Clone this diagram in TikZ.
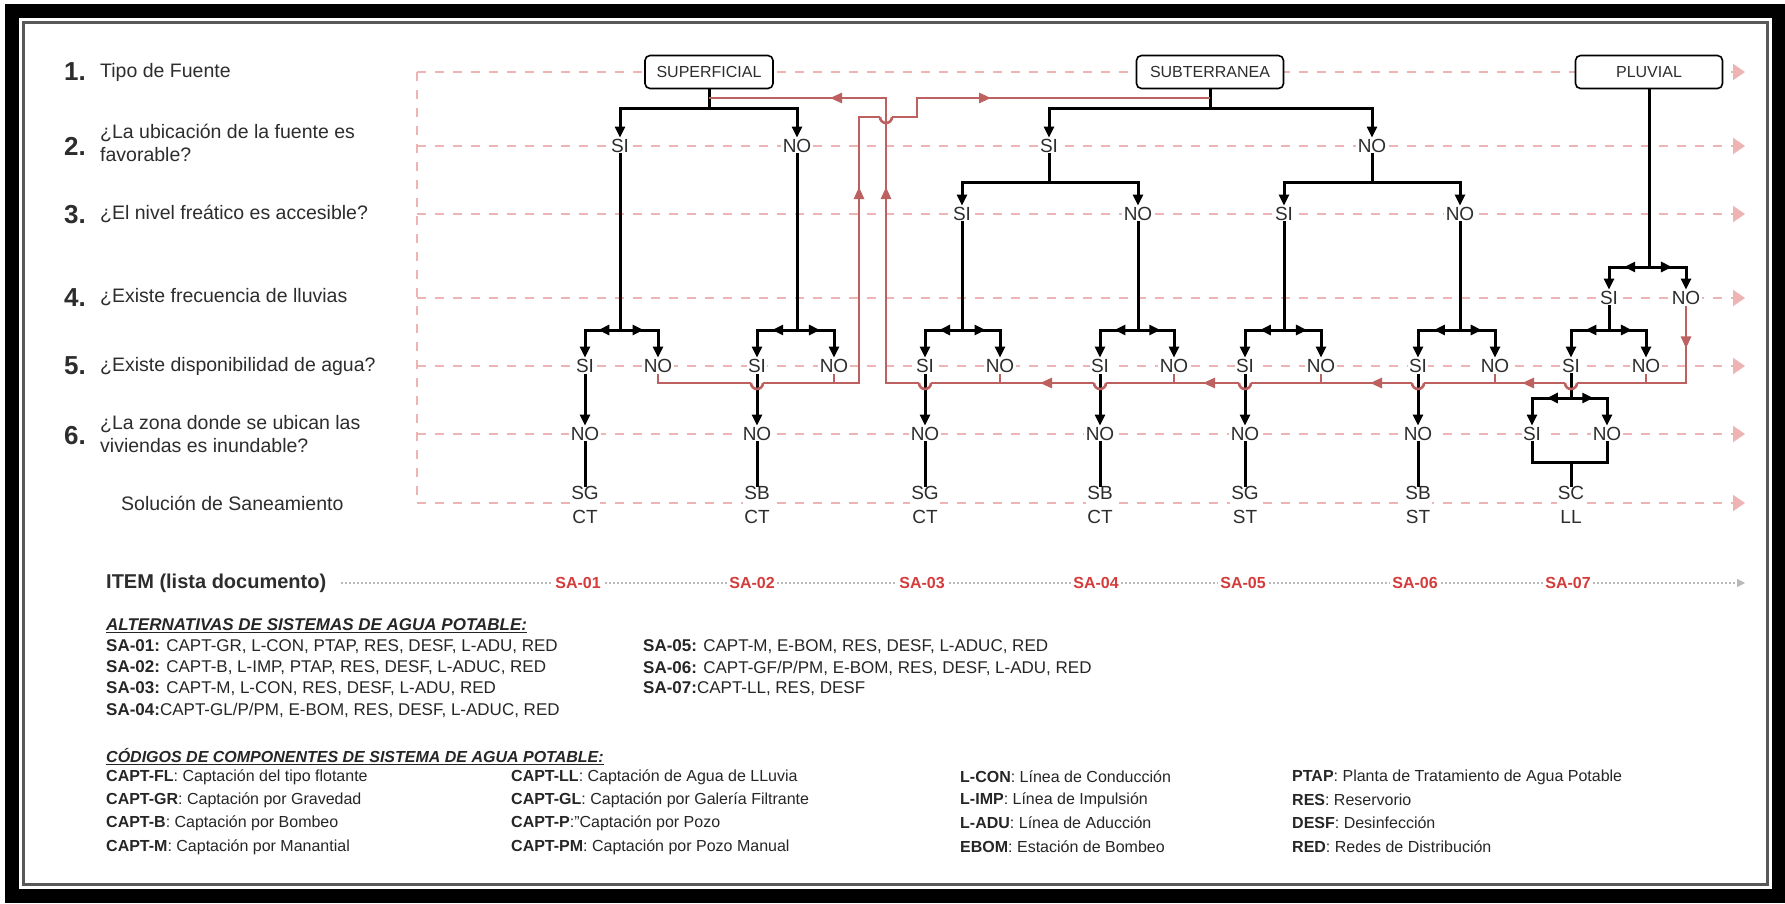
\documentclass[tikz,border=0pt]{standalone}
\usepackage{fontspec}
\setmainfont{Liberation Sans}
\usetikzlibrary{arrows.meta,decorations.markings}
\definecolor{guide}{RGB}{238,180,180}
\definecolor{redl}{RGB}{188,96,96}
\definecolor{itemred}{RGB}{212,60,60}
\definecolor{txt}{RGB}{45,45,45}
\newcommand{\mysplit}[4]{%
  \coordinate (tmpj) at (#1.south |- #2);
  \draw[blk] (#1.south) -- (tmpj);
  \draw[midarr] (tmpj) -- (tmpj -| #3.north);
  \draw[midarr] (tmpj) -- (tmpj -| #4.north);
  \draw[blkarr] (tmpj -| #3.north) -- (#3.north);
  \draw[blkarr] (tmpj -| #4.north) -- (#4.north);
}
\newcommand{\myhop}[2]{\draw[rline] (#1+6,#2) arc[start angle=0,end angle=180,radius=6];}
\tikzset{
  blk/.style={draw=black, line width=3pt, line cap=rect},
  blkarr/.style={draw=black, line width=3pt, -{Triangle[length=11pt,width=10pt]}},
  midarr/.style={blk, postaction={decorate}, decoration={markings, mark=at position 0.62 with {\arrow{Triangle[length=11pt,width=10pt]}}}},
  rline/.style={draw=redl, line width=2.6pt},
  rmark/.style={rline, postaction={decorate}, decoration={markings, mark=at position #1 with {\arrow{Triangle[length=12pt,width=10pt]}}}},
  guideline/.style={draw=guide, line width=2pt, dash pattern=on 9pt off 9pt},
  guidetip/.style={-{Triangle[length=12pt,width=16pt,fill=guide]}},
  itemline/.style={draw=gray!55, line width=1.3pt, dash pattern=on 2pt off 2pt, -{Triangle[length=8pt,width=8pt,fill=gray!55]}},
  lbl/.style={fill=white, inner sep=1.5pt, text=txt, font=\fontsize{19}{23}\selectfont},
  sol/.style={fill=white, inner sep=1pt, text=txt, align=center, font=\fontsize{19}{24}\selectfont},
  srcbox/.style={draw=black, line width=1.6pt, rounded corners=5pt, fill=white, minimum height=33pt, text=txt, font=\fontsize{16}{18}\selectfont},
  qnum/.style={anchor=west, inner sep=0pt, text=txt, font=\bfseries\fontsize{26}{28}\selectfont},
  qtxt/.style={anchor=west, inner sep=0pt, text=txt, align=left, font=\fontsize{19.5}{23}\selectfont},
  saitem/.style={fill=white, inner sep=2pt, text=itemred, font=\bfseries\fontsize{16}{18}\selectfont},
  leg/.style={anchor=west, inner sep=0pt, text=black!85, font=\fontsize{17}{20}\selectfont},
  legs/.style={anchor=west, inner sep=0pt, text=black!85, font=\fontsize{16}{19}\selectfont},
  leghead/.style={anchor=west, inner sep=0pt, text=black!85, font=\bfseries\itshape\fontsize{#1}{20}\selectfont},
}
\begin{document}
\begin{tikzpicture}[x=1pt,y=-1pt]
\useasboundingbox (0,0) rectangle (1785,903);
% frame
\fill[white] (0,0) rectangle (1785,903);
\fill[black] (5,4) rectangle (1785,903);
\fill[white] (19,18) rectangle (1772,889);
\draw[black!65, line width=3pt] (23.5,22.5) rectangle (1767.5,884.5);

% guide lines
\foreach \yy/\n in {72/1,146/2,214/3,298/4,366/5,434/6,503/7}{
  \coordinate (gl\n) at (417,\yy);
  \coordinate (gr\n) at (1745,\yy);
  \draw[guideline, guidetip] (gl\n) -- (gr\n);
}
\draw[guideline] (gl1) -- (gl7);

% level coordinates
\coordinate (yS1) at (0,108);
\coordinate (yS2) at (0,182);
\coordinate (yS4) at (0,267);
\coordinate (yS5) at (0,330);
\coordinate (yS6) at (0,398);
\coordinate (yB) at (0,462);
\coordinate (yR) at (0,383);
\coordinate (yT) at (0,98);

% questions
\node[qnum] (n1) at (64,72) {1.};
\node[qtxt] (q1) at (100,72) {Tipo de Fuente};
\node[qnum] (n2) at (64,146) {2.};
\node[qtxt] (q2) at (100,143) {¿La ubicación de la fuente es\\favorable?};
\node[qnum] (n3) at (64,215) {3.};
\node[qtxt] (q3) at (100,214) {¿El nivel freático es accesible?};
\node[qnum] (n4) at (64,298) {4.};
\node[qtxt] (q4) at (100,297) {¿Existe frecuencia de lluvias};
\node[qnum] (n5) at (64,366) {5.};
\node[qtxt] (q5) at (100,366) {¿Existe disponibilidad de agua?};
\node[qnum] (n6) at (64,436) {6.};
\node[qtxt] (q6) at (100,434) {¿La zona donde se ubican las\\viviendas es inundable?};
\node[qtxt] (q7) at (121,503) {Solución de Saneamiento};

% source boxes
\node[srcbox, minimum width=128pt] (sup) at (709,72) {SUPERFICIAL};
\node[srcbox, minimum width=147pt] (sub) at (1210,72) {SUBTERRANEA};
\node[srcbox, minimum width=147pt] (plu) at (1649,72) {PLUVIAL};

% row 2
\node[lbl] (s2si) at (620,146) {SI};
\node[lbl] (s2no) at (797,146) {NO};
\node[lbl] (u2si) at (1049,146) {SI};
\node[lbl] (u2no) at (1372,146) {NO};
% row 3
\node[lbl] (u3a) at (962,214) {SI};
\node[lbl] (u3b) at (1138,214) {NO};
\node[lbl] (u3c) at (1284,214) {SI};
\node[lbl] (u3d) at (1460,214) {NO};
% row 4
\node[lbl] (p4si) at (1609,298) {SI};
\node[lbl] (p4no) at (1686,298) {NO};
% row 5
\node[lbl] (c1si) at (585,366) {SI};
\node[lbl] (c1no) at (658,366) {NO};
\node[lbl] (c2si) at (757,366) {SI};
\node[lbl] (c2no) at (834,366) {NO};
\node[lbl] (c3si) at (925,366) {SI};
\node[lbl] (c3no) at (1000,366) {NO};
\node[lbl] (c4si) at (1100,366) {SI};
\node[lbl] (c4no) at (1174,366) {NO};
\node[lbl] (c5si) at (1245,366) {SI};
\node[lbl] (c5no) at (1321,366) {NO};
\node[lbl] (c6si) at (1418,366) {SI};
\node[lbl] (c6no) at (1495,366) {NO};
\node[lbl] (c7si) at (1571,366) {SI};
\node[lbl] (c7no) at (1646,366) {NO};
% row 6
\node[lbl] (c1n6) at (585,434) {NO};
\node[lbl] (c2n6) at (757,434) {NO};
\node[lbl] (c3n6) at (925,434) {NO};
\node[lbl] (c4n6) at (1100,434) {NO};
\node[lbl] (c5n6) at (1245,434) {NO};
\node[lbl] (c6n6) at (1418,434) {NO};
\node[lbl] (c7si6) at (1532,434) {SI};
\node[lbl] (c7no6) at (1607,434) {NO};
% row 7
\node[sol] (r1) at (585,505) {SG\\CT};
\node[sol] (r2) at (757,505) {SB\\CT};
\node[sol] (r3) at (925,505) {SG\\CT};
\node[sol] (r4) at (1100,505) {SB\\CT};
\node[sol] (r5) at (1245,505) {SG\\ST};
\node[sol] (r6) at (1418,505) {SB\\ST};
\node[sol] (r7) at (1571,505) {SC\\LL};

% black tree lines
\coordinate (jA) at (sup.south |- yS1);
\draw[blk] (sup.south) -- (jA);
\draw[blkarr] (jA) -| (s2si.north);
\draw[blkarr] (jA) -| (s2no.north);
\coordinate (jB) at (sub.south |- yS1);
\draw[blk] (sub.south) -- (jB);
\draw[blkarr] (jB) -| (u2si.north);
\draw[blkarr] (jB) -| (u2no.north);
\coordinate (jC) at (u2si.south |- yS2);
\draw[blk] (u2si.south) -- (jC);
\draw[blkarr] (jC) -| (u3a.north);
\draw[blkarr] (jC) -| (u3b.north);
\coordinate (jD) at (u2no.south |- yS2);
\draw[blk] (u2no.south) -- (jD);
\draw[blkarr] (jD) -| (u3c.north);
\draw[blkarr] (jD) -| (u3d.north);

\mysplit{plu}{yS4}{p4si}{p4no}
\mysplit{s2si}{yS5}{c1si}{c1no}
\mysplit{s2no}{yS5}{c2si}{c2no}
\mysplit{u3a}{yS5}{c3si}{c3no}
\mysplit{u3b}{yS5}{c4si}{c4no}
\mysplit{u3c}{yS5}{c5si}{c5no}
\mysplit{u3d}{yS5}{c6si}{c6no}
\mysplit{p4si}{yS5}{c7si}{c7no}
\mysplit{c7si}{yS6}{c7si6}{c7no6}

\foreach \i in {1,...,6}{
  \draw[blkarr] (c\i si.south) -- (c\i n6.north);
  \draw[blk] (c\i n6.south) -- (r\i.north);
}
\draw[blk] (c7si6.south) -- (c7si6.south |- yB) -- (c7no6.south |- yB) -- (c7no6.south);
\draw[blk] (r7.north |- yB) -- (r7.north);

% red return lines: superficial without water -> subterranea
\draw[rline] (c1no.south) -- (c1no.south |- yR) -- (751,383);
\myhop{757}{383}
\draw[rmark=292pt] (763,383) -- (859,383) -- (859,117) -- (880,117);
\myhop{886}{117}
\draw[rmark=118pt] (892,117) -- (917,117) -- (917,98) -- (sub.south |- yT);
\draw[rline] (c2no.south) -- (c2no.south |- yR);

% red return lines: subterranea / pluvial without water -> superficial
\draw[rmark=42pt] (p4no.south) -- (p4no.south |- yR) -- (1577,383);
\myhop{1571}{383}
\draw[rmark=43pt] (1565,383) -- (1424,383);
\myhop{1418}{383}
\draw[rmark=42pt] (1412,383) -- (1251,383);
\myhop{1245}{383}
\draw[rmark=36pt] (1239,383) -- (1106,383);
\myhop{1100}{383}
\draw[rmark=54pt] (1094,383) -- (931,383);
\myhop{925}{383}
\draw[rline, postaction={decorate}, decoration={markings,
   mark=at position 229pt with {\arrow{Triangle[length=12pt,width=10pt]}},
   mark=at position 374pt with {\arrow{Triangle[length=12pt,width=10pt]}}}]
   (919,383) -- (886,383) -- (886,98) -- (sup.south |- yT);
\foreach \n in {c3no,c4no,c5no,c6no,c7no}{
  \draw[rline] (\n.south) -- (\n.south |- yR);
}

% ITEM row
\node[anchor=west, inner sep=0pt, text=txt, font=\bfseries\fontsize{20}{22}\selectfont] (item) at (106,583) {ITEM (lista documento)};
\coordinate (ie) at (1745,583);
\draw[itemline] ([xshift=15pt]item.east) -- (ie);
\node[saitem] (sa1) at (578,583) {SA-01};
\node[saitem] (sa2) at (752,583) {SA-02};
\node[saitem] (sa3) at (922,583) {SA-03};
\node[saitem] (sa4) at (1096,583) {SA-04};
\node[saitem] (sa5) at (1243,583) {SA-05};
\node[saitem] (sa6) at (1415,583) {SA-06};
\node[saitem] (sa7) at (1568,583) {SA-07};

% legend: alternatives
\node[leghead=17] (h1) at (106,626) {\underline{ALTERNATIVAS DE SISTEMAS DE AGUA POTABLE:}};
\node[leg] (a1) at (106,647) {\textbf{SA-01:} CAPT-GR, L-CON, PTAP, RES, DESF, L-ADU, RED};
\node[leg] (a2) at (106,668) {\textbf{SA-02:} CAPT-B, L-IMP, PTAP, RES, DESF, L-ADUC, RED};
\node[leg] (a3) at (106,689) {\textbf{SA-03:} CAPT-M, L-CON, RES, DESF, L-ADU, RED};
\node[leg] (a4) at (106,710) {\textbf{SA-04:}CAPT-GL/P/PM, E-BOM, RES, DESF, L-ADUC, RED};
\node[leg] (a5) at (643,647) {\textbf{SA-05:} CAPT-M, E-BOM, RES, DESF, L-ADUC, RED};
\node[leg] (a6) at (643,668) {\textbf{SA-06:} CAPT-GF/P/PM, E-BOM, RES, DESF, L-ADU, RED};
\node[leg] (a7) at (643,689) {\textbf{SA-07:}CAPT-LL, RES, DESF};

% legend: component codes
\node[leghead=16] (h2) at (106,757) {\underline{CÓDIGOS DE COMPONENTES DE SISTEMA DE AGUA POTABLE:}};
\node[legs] (k1) at (106,777) {\textbf{CAPT-FL}: Captación del tipo flotante};
\node[legs] (k2) at (106,800) {\textbf{CAPT-GR}: Captación por Gravedad};
\node[legs] (k3) at (106,823) {\textbf{CAPT-B}: Captación por Bombeo};
\node[legs] (k4) at (106,847) {\textbf{CAPT-M}: Captación por Manantial};
\node[legs] (k5) at (511,777) {\textbf{CAPT-LL}: Captación de Agua de LLuvia};
\node[legs] (k6) at (511,800) {\textbf{CAPT-GL}: Captación por Galería Filtrante};
\node[legs] (k7) at (511,823) {\textbf{CAPT-P}:"Captación por Pozo};
\node[legs] (k8) at (511,847) {\textbf{CAPT-PM}: Captación por Pozo Manual};
\node[legs] (k9) at (960,777) {\textbf{L-CON}: Línea de Conducción};
\node[legs] (k10) at (960,800) {\textbf{L-IMP}: Línea de Impulsión};
\node[legs] (k11) at (960,823) {\textbf{L-ADU}: Línea de Aducción};
\node[legs] (k12) at (960,847) {\textbf{EBOM}: Estación de Bombeo};
\node[legs] (k13) at (1292,777) {\textbf{PTAP}: Planta de Tratamiento de Agua Potable};
\node[legs] (k14) at (1292,800) {\textbf{RES}: Reservorio};
\node[legs] (k15) at (1292,823) {\textbf{DESF}: Desinfección};
\node[legs] (k16) at (1292,847) {\textbf{RED}: Redes de Distribución};
\end{tikzpicture}
\end{document}
